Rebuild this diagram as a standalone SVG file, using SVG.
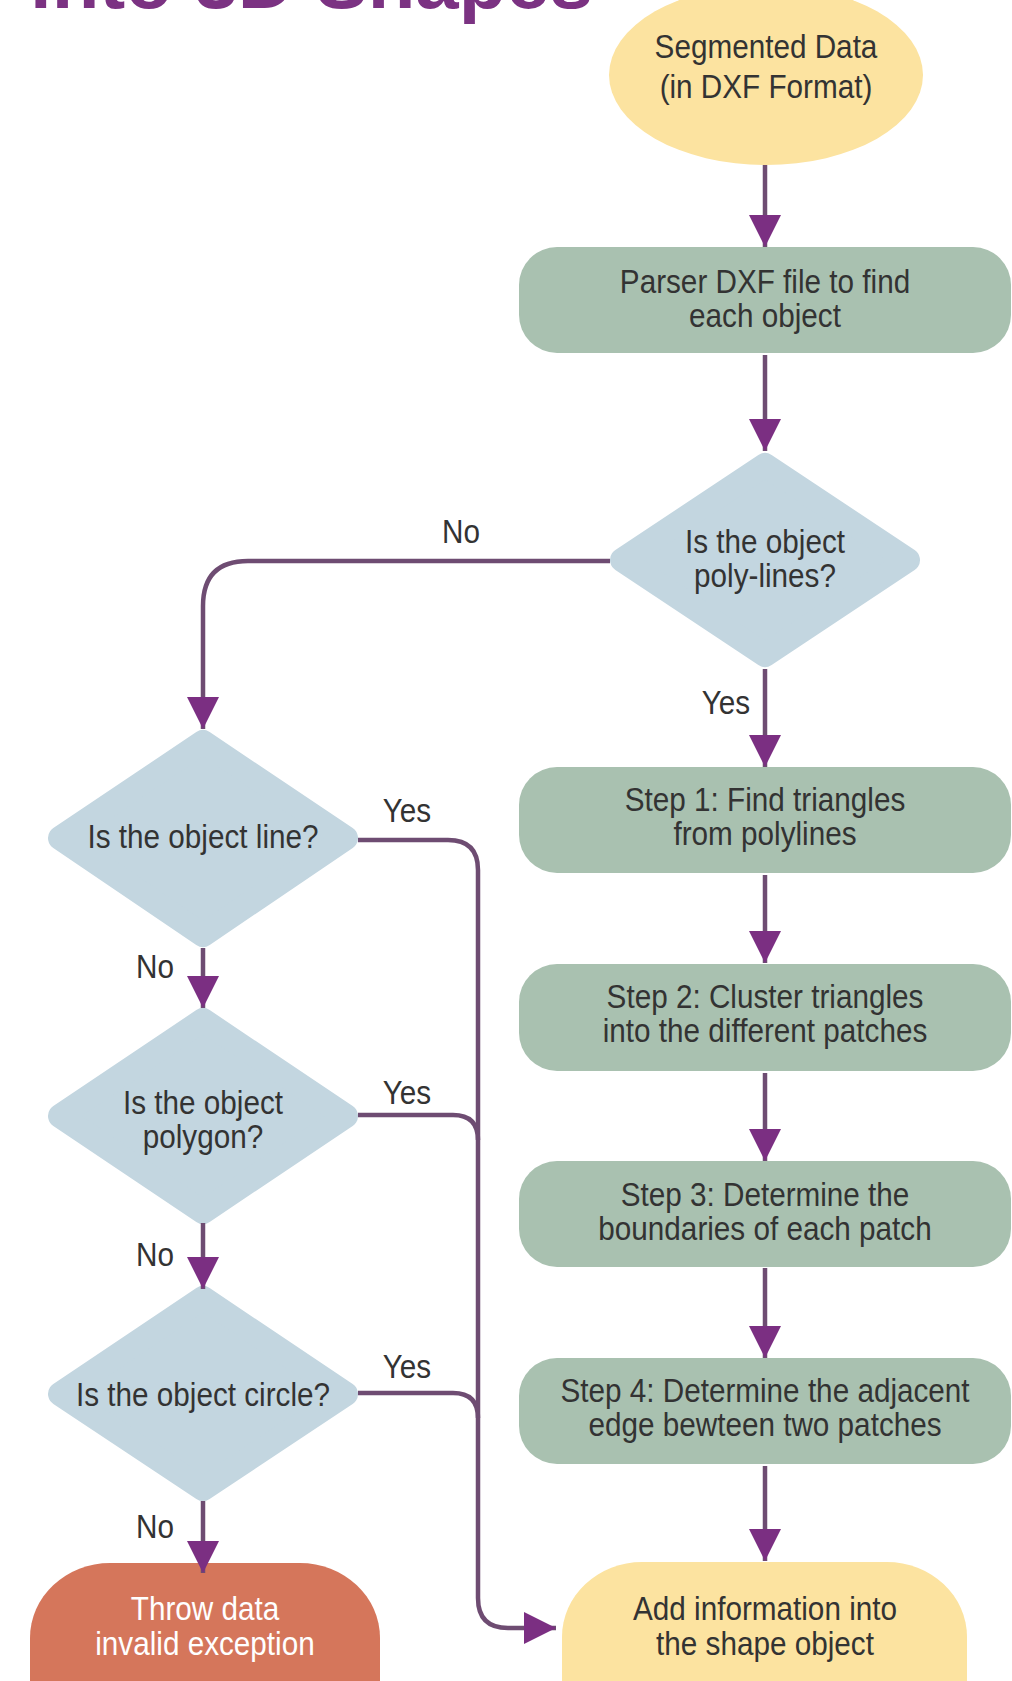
<svg xmlns="http://www.w3.org/2000/svg" width="1012" height="1681" viewBox="0 0 1012 1681">
  <style>
    .lbl { font-family: "Liberation Sans", Arial, Helvetica, sans-serif; font-size: 33px; fill: #333333; text-anchor: middle; }
    .lbl.light { fill: #ffffff; }
    .title { font-family: "Liberation Sans", Arial, Helvetica, sans-serif; font-weight: bold; font-size: 76px; fill: #7b3282; }
    .start { fill: #fce3a0; }
    .proc { fill: #a9c1b0; }
    .dia { fill: #c3d6e0; stroke: #c3d6e0; stroke-width: 24; stroke-linejoin: round; }
    .err { fill: #d5765b; }
    .conn { fill: none; stroke: #6e4c72; stroke-width: 4.5; }
  </style>
  <defs>
    <marker id="ah" viewBox="0 0 10 10" refX="10" refY="5" markerWidth="32" markerHeight="32" markerUnits="userSpaceOnUse" orient="auto">
      <path d="M0,0 L10,5 L0,10 z" fill="#7b2f82"/>
    </marker>
  </defs>

  <rect width="1012" height="1681" fill="#ffffff"/>

  <!-- heading, clipped by the top edge -->
  <text class="title" x="30" y="8" textLength="563" lengthAdjust="spacingAndGlyphs">into 3D Shapes</text>

  <!-- right column -->
  <g id="segmented-data">
    <ellipse class="start" cx="766" cy="75" rx="157" ry="90"/>
    <text class="lbl" transform="translate(766 0) scale(0.9 1)"><tspan x="0" y="58">Segmented Data</tspan><tspan x="0" y="98">(in DXF Format)</tspan></text>
  </g>
  <g id="parse-dxf">
    <rect class="proc" x="519" y="247" width="492" height="106" rx="38"/>
    <text class="lbl" transform="translate(765 0) scale(0.9 1)"><tspan x="0" y="293">Parser DXF file to find</tspan><tspan x="0" y="327">each object</tspan></text>
  </g>
  <g id="is-polylines">
    <polygon class="dia" points="765,465 908,560 765,655 622,560"/>
    <text class="lbl" transform="translate(765 0) scale(0.9 1)"><tspan x="0" y="553">Is the object</tspan><tspan x="0" y="587">poly-lines?</tspan></text>
  </g>
  <g id="step1">
    <rect class="proc" x="519" y="767" width="492" height="106" rx="38"/>
    <text class="lbl" transform="translate(765 0) scale(0.9 1)"><tspan x="0" y="811">Step 1: Find triangles</tspan><tspan x="0" y="845">from polylines</tspan></text>
  </g>
  <g id="step2">
    <rect class="proc" x="519" y="964" width="492" height="107" rx="38"/>
    <text class="lbl" transform="translate(765 0) scale(0.9 1)"><tspan x="0" y="1008">Step 2: Cluster triangles</tspan><tspan x="0" y="1042">into the different patches</tspan></text>
  </g>
  <g id="step3">
    <rect class="proc" x="519" y="1161" width="492" height="106" rx="38"/>
    <text class="lbl" transform="translate(765 0) scale(0.9 1)"><tspan x="0" y="1206">Step 3: Determine the</tspan><tspan x="0" y="1240">boundaries of each patch</tspan></text>
  </g>
  <g id="step4">
    <rect class="proc" x="519" y="1358" width="492" height="106" rx="38"/>
    <text class="lbl" transform="translate(765 0) scale(0.9 1)"><tspan x="0" y="1402">Step 4: Determine the adjacent</tspan><tspan x="0" y="1436">edge bewteen two patches</tspan></text>
  </g>
  <g id="add-info">
    <rect class="start" x="562" y="1562" width="405" height="220" rx="80" ry="75"/>
    <text class="lbl" transform="translate(765 0) scale(0.9 1)"><tspan x="0" y="1620">Add information into</tspan><tspan x="0" y="1655">the shape object</tspan></text>
  </g>

  <!-- left column -->
  <g id="is-line">
    <polygon class="dia" points="203,742 346,838 203,935 60,838"/>
    <text class="lbl" transform="translate(203 0) scale(0.9 1)"><tspan x="0" y="848">Is the object line?</tspan></text>
  </g>
  <g id="is-polygon">
    <polygon class="dia" points="203,1020 346,1116 203,1212 60,1116"/>
    <text class="lbl" transform="translate(203 0) scale(0.9 1)"><tspan x="0" y="1114">Is the object</tspan><tspan x="0" y="1148">polygon?</tspan></text>
  </g>
  <g id="is-circle">
    <polygon class="dia" points="203,1298 346,1394 203,1489 60,1394"/>
    <text class="lbl" transform="translate(203 0) scale(0.9 1)"><tspan x="0" y="1406">Is the object circle?</tspan></text>
  </g>
  <g id="throw-invalid">
    <rect class="err" x="30" y="1563" width="350" height="220" rx="80" ry="75"/>
    <text class="lbl light" transform="translate(205 0) scale(0.9 1)"><tspan x="0" y="1620">Throw data</tspan><tspan x="0" y="1655">invalid exception</tspan></text>
  </g>

  <!-- connectors -->
  <g id="connectors">
    <path class="conn" d="M765 165 V247" marker-end="url(#ah)"/>
    <path class="conn" d="M765 355 V451" marker-end="url(#ah)"/>
    <path class="conn" d="M765 669 V767" marker-end="url(#ah)"/>
    <path class="conn" d="M765 875 V963" marker-end="url(#ah)"/>
    <path class="conn" d="M765 1073 V1161" marker-end="url(#ah)"/>
    <path class="conn" d="M765 1268 V1358" marker-end="url(#ah)"/>
    <path class="conn" d="M765 1466 V1561" marker-end="url(#ah)"/>
    <path class="conn" d="M610 561 H248 Q203 561 203 606 V729" marker-end="url(#ah)"/>
    <path class="conn" d="M203 948 V1008" marker-end="url(#ah)"/>
    <path class="conn" d="M203 1223 V1289" marker-end="url(#ah)"/>
    <path class="conn" d="M203 1501 V1573" marker-end="url(#ah)"/>
    <path class="conn" d="M358 840 H448 Q478 840 478 870 V1598 Q478 1628 508 1628 H556" marker-end="url(#ah)"/>
    <path class="conn" d="M358 1115 H453 Q478 1115 478 1140"/>
    <path class="conn" d="M358 1393 H453 Q478 1393 478 1418"/>
  </g>

  <!-- branch labels -->
  <g id="branch-labels">
    <text class="lbl" transform="translate(461 0) scale(0.9 1)"><tspan x="0" y="543">No</tspan></text>
    <text class="lbl" transform="translate(726 0) scale(0.9 1)"><tspan x="0" y="714">Yes</tspan></text>
    <text class="lbl" transform="translate(407 0) scale(0.9 1)"><tspan x="0" y="822">Yes</tspan></text>
    <text class="lbl" transform="translate(155 0) scale(0.9 1)"><tspan x="0" y="978">No</tspan></text>
    <text class="lbl" transform="translate(407 0) scale(0.9 1)"><tspan x="0" y="1104">Yes</tspan></text>
    <text class="lbl" transform="translate(155 0) scale(0.9 1)"><tspan x="0" y="1266">No</tspan></text>
    <text class="lbl" transform="translate(407 0) scale(0.9 1)"><tspan x="0" y="1378">Yes</tspan></text>
    <text class="lbl" transform="translate(155 0) scale(0.9 1)"><tspan x="0" y="1538">No</tspan></text>
  </g>
</svg>
